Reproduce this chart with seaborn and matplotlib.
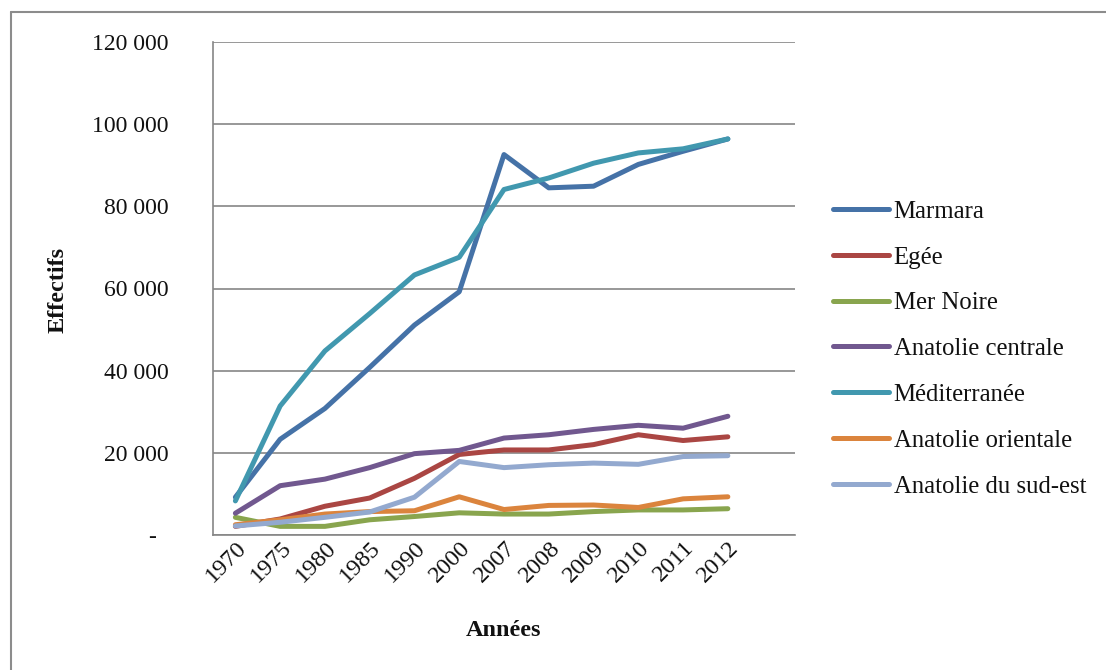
import matplotlib
matplotlib.use("Agg")
import matplotlib.pyplot as plt
import matplotlib.transforms as mtransforms
from matplotlib.lines import Line2D
import seaborn as sns
import pandas as pd

years = ["1970", "1975", "1980", "1985", "1990", "2000", "2007", "2008", "2009", "2010", "2011", "2012"]
marmara = [9200, 23300, 30800, 40800, 51100, 59200, 92600, 84500, 84900, 90200, 93400, 96400]
egee = [2100, 3900, 7000, 9000, 13800, 19600, 20700, 20700, 22000, 24400, 23000, 23900]
mer_noire = [4300, 2100, 2100, 3700, 4500, 5400, 5100, 5100, 5700, 6100, 6100, 6400]
anatolie_centrale = [5300, 12000, 13600, 16400, 19800, 20600, 23600, 24400, 25700, 26700, 26000, 28900]
mediterranee = [8300, 31400, 44800, 53900, 63300, 67600, 84100, 86900, 90500, 93000, 94000, 96400]
anatolie_orientale = [2500, 3700, 5100, 5700, 5900, 9300, 6200, 7200, 7300, 6700, 8800, 9300]
anatolie_sud_est = [2200, 3100, 4300, 5600, 9200, 17900, 16400, 17100, 17500, 17200, 19100, 19300]

regions = ["Marmara", "Egée", "Mer Noire", "Anatolie centrale", "Méditerranée",
           "Anatolie orientale", "Anatolie du sud-est"]
series = [marmara, egee, mer_noire, anatolie_centrale, mediterranee,
          anatolie_orientale, anatolie_sud_est]
colors = ["#4572A7", "#AA4643", "#89A54E", "#71588F", "#4198AF", "#DB843D", "#93A9CF"]

rows = []
for name, vals in zip(regions, series):
    for y, v in zip(years, vals):
        rows.append({"Année": y, "Effectif": v, "Région": name})
df = pd.DataFrame(rows)

sns.set_style("white")
plt.rcParams['font.family'] = ['Liberation Serif', 'DejaVu Serif']
plt.rcParams['text.color'] = '#111111'
plt.rcParams['xtick.color'] = '#111111'
plt.rcParams['ytick.color'] = '#111111'

W, H = 1106, 670
fig = plt.figure(figsize=(W / 100, H / 100), dpi=100)
ax = fig.add_axes([213 / W, 1 - 535 / H, (795 - 213) / W, (535 - 42) / H])

sns.lineplot(data=df, x="Année", y="Effectif", hue="Région", hue_order=regions,
             palette=colors, linewidth=3.6, ax=ax, sort=False, legend=False,
             solid_capstyle="round")

ax.set_xlim(-0.5, 12.5)
ax.set_ylim(0, 120000)
ax.set_yticks(range(0, 120001, 20000))
ax.set_yticklabels(["-  "] + [f"{v:,}".replace(",", " ") for v in range(20000, 120001, 20000)])
ax.set_xticks(range(len(years)))
ax.set_xticklabels(years)
ax.grid(axis="y", color="#868686", linewidth=1.2)
ax.set_axisbelow(True)
for s in ["top", "right"]:
    ax.spines[s].set_visible(False)
for s in ["left", "bottom"]:
    ax.spines[s].set_color("#868686")
    ax.spines[s].set_linewidth(1.2)
ax.tick_params(axis="y", length=0, pad=32, labelsize=17)
ax.tick_params(axis="x", length=0, pad=7, labelsize=17.5)
offset = mtransforms.ScaledTranslation(8 / 100, 0, fig.dpi_scale_trans)
for lab in ax.get_xticklabels():
    lab.set_rotation(45)
    lab.set_ha("right")
    lab.set_va("center")
    lab.set_rotation_mode("anchor")
    lab.set_transform(lab.get_transform() + offset)
ax.set_xlabel("")
ax.set_ylabel("")

fig.text(58 / W, 1 - 290 / H, "Effectifs", rotation=90, ha="center", va="center",
         fontsize=17.5, fontweight="bold")
fig.text(504 / W, 1 - 630 / H, "Années", ha="center", va="center",
         fontsize=17.5, fontweight="bold")

handles = [Line2D([0], [0], color=c, linewidth=3.6, solid_capstyle="round") for c in colors]
fig.legend(handles, regions, loc="center left", bbox_to_anchor=(833 / W, 1 - 349 / H),
           frameon=False, fontsize=17.8, handlelength=2.25, handletextpad=0.2,
           labelspacing=0.95, borderpad=0, borderaxespad=0)

# outer chart border (top and left edges visible)
fig.add_artist(Line2D([11 / W, 1], [1 - 12 / H, 1 - 12 / H], transform=fig.transFigure,
                      color="#8c8c8c", linewidth=1.5))
fig.add_artist(Line2D([11 / W, 11 / W], [0, 1 - 12 / H], transform=fig.transFigure,
                      color="#8c8c8c", linewidth=1.5))

fig.savefig("out.png", dpi=100)
